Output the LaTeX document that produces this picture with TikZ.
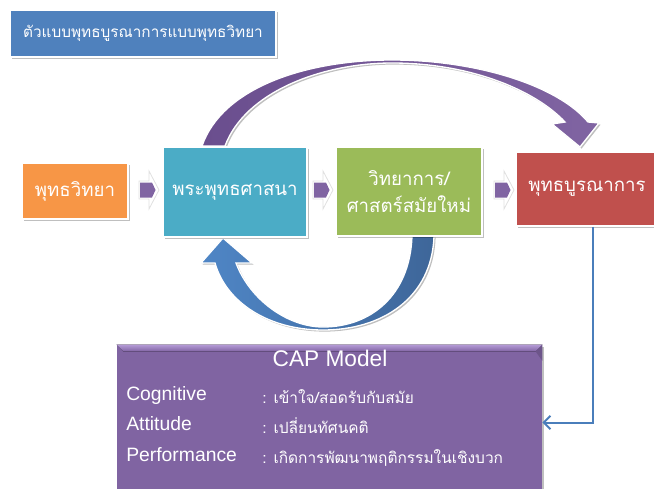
\documentclass[tikz,border=0pt]{standalone}
\usepackage{fontspec}
\setmainfont{Liberation Sans}
\newfontfamily\thai[Script=Thai]{Loma}
\usetikzlibrary{shadows,arrows.meta,calc}
\definecolor{cTitle}{HTML}{4F81BD}
\definecolor{cOrange}{HTML}{F79646}
\definecolor{cTeal}{HTML}{4BACC6}
\definecolor{cGreen}{HTML}{9BBB59}
\definecolor{cRed}{HTML}{C0504D}
\definecolor{cPurple}{HTML}{8064A2}
\definecolor{cPurpleDark}{HTML}{6A4E8E}
\definecolor{cPurpleLight}{HTML}{B49AD6}
\definecolor{cBlueL}{HTML}{4F86C6}
\definecolor{cBlueD}{HTML}{3E6699}
\definecolor{cLine}{HTML}{4A7EBB}
\tikzset{
  shade1/.style={drop shadow={shadow xshift=1.2pt, shadow yshift=-1.2pt, opacity=0.25, fill=black}},
  box/.style={draw=white, line width=1.2pt, shade1, text=white, align=center, inner sep=0pt,
    font=\thai\fontsize{14}{20}\selectfont},
  bigarrow/.style={draw=white, line width=1pt, shade1},
  conn/.style={draw=cLine, line width=1.5pt, -{Straight Barb[length=5pt,width=10pt,line width=1.5pt]}},
  caplat/.style={text=white, anchor=west, inner sep=0pt, font=\fontsize{14.5}{16}\selectfont},
  capthai/.style={text=white, anchor=west, inner sep=0pt, font=\thai\fontsize{11.6}{14}\selectfont},
  boxarrow/.pic={
    \path[fill=white, draw=black!12, line width=0.6pt] (-9,-9) -- (1,-9) -- (1,-19) -- (11,0) -- (1,19) -- (1,9) -- (-9,9) -- cycle;
    \fill[cPurple] (-8,-7.5) -- (4,-7.5) -- (7.5,0) -- (4,7.5) -- (-8,7.5) -- cycle;
  }
}
\begin{document}
\begin{tikzpicture}[x=0.75pt,y=-0.75pt]
\useasboundingbox (0,0) rectangle (654,489);
\clip (0,0) rectangle (654,489);

% title
\node[box, fill=cTitle, minimum width=199.5pt, minimum height=35.25pt,
  font=\thai\fontsize{11.5}{14}\selectfont] (title) at (143,33.5) {ตัวแบบพุทธบูรณาการแบบพุทธวิทยา};

% curved arrow (top, purple)
\path[bigarrow, left color=cPurpleDark, right color=cPurple]
  (202,146) .. controls (222,88) and (305,60) .. (392,60)
  .. controls (478,60) and (558,86) .. (588,122)
  -- (599,123) -- (580,147) -- (552,124) -- (565,122)
  .. controls (535,90) and (470,63) .. (392,63)
  .. controls (322,63) and (245,92) .. (225,146) -- cycle;

% curved arrow (bottom, blue)
\path[bigarrow, left color=cBlueL, right color=cBlueD]
  (434,236) .. controls (432,298) and (382,330) .. (323,330)
  .. controls (268,330) and (226,302) .. (215,263)
  -- (201,263) -- (223,238) -- (252,263) -- (236,263)
  .. controls (250,300) and (288,327) .. (323,327)
  .. controls (370,327) and (410,296) .. (412,236) -- cycle;

% main boxes
\node[box, fill=cOrange, minimum width=79.5pt, minimum height=42pt] (budsci) at (75,191) {พุทธวิทยา};
\node[box, fill=cTeal, minimum width=108pt, minimum height=67.5pt] (buddhism) at (235,192) {พระพุทธศาสนา};
\node[box, fill=cGreen, minimum width=109.5pt, minimum height=66.75pt] (science) at (409,191.5) {วิทยาการ/\\ศาสตร์สมัยใหม่};
\node[box, fill=cRed, minimum width=106.5pt, minimum height=55.5pt] (integ) at (587,189) {พุทธบูรณาการ};

% small block arrows
\pic at (148,190) {boxarrow};
\pic at (322,190) {boxarrow};
\pic at (503,190) {boxarrow};

% CAP box
\node[draw=none, fill=cPurple, minimum width=318.75pt, minimum height=116.25pt, inner sep=0pt, shade1] (cap) at (329.5,422.5) {};
\fill[top color=cPurpleLight, bottom color=cPurple] (cap.north west) -- (cap.north east) -- ([xshift=-5pt,yshift=-5pt]cap.north east) -- ([xshift=5pt,yshift=-5pt]cap.north west) -- cycle;
\fill[cPurple!85!black] (cap.north east) -- ([xshift=-5pt,yshift=-5pt]cap.north east) -- ([yshift=-12pt]cap.north east) -- cycle;

\node[text=white, inner sep=0pt, font=\fontsize{17}{20}\selectfont] (capt) at (330,358) {CAP Model};
\node[caplat] (cog) at (126,395) {Cognitive};
\node[caplat] (att) at (126,424) {Attitude};
\node[caplat] (perf) at (126,455) {Performance};
\node[capthai] (cogt) at (262,397) {: เข้าใจ/สอดรับกับสมัย};
\node[capthai] (attt) at (262,426) {: เปลี่ยนทัศนคติ};
\node[capthai] (perft) at (262,458) {: เกิดการพัฒนาพฤติกรรมในเชิงบวก};

% connector
\draw[conn] ([xshift=4.5pt]integ.south) |- (cap.east);
\end{tikzpicture}
\end{document}
